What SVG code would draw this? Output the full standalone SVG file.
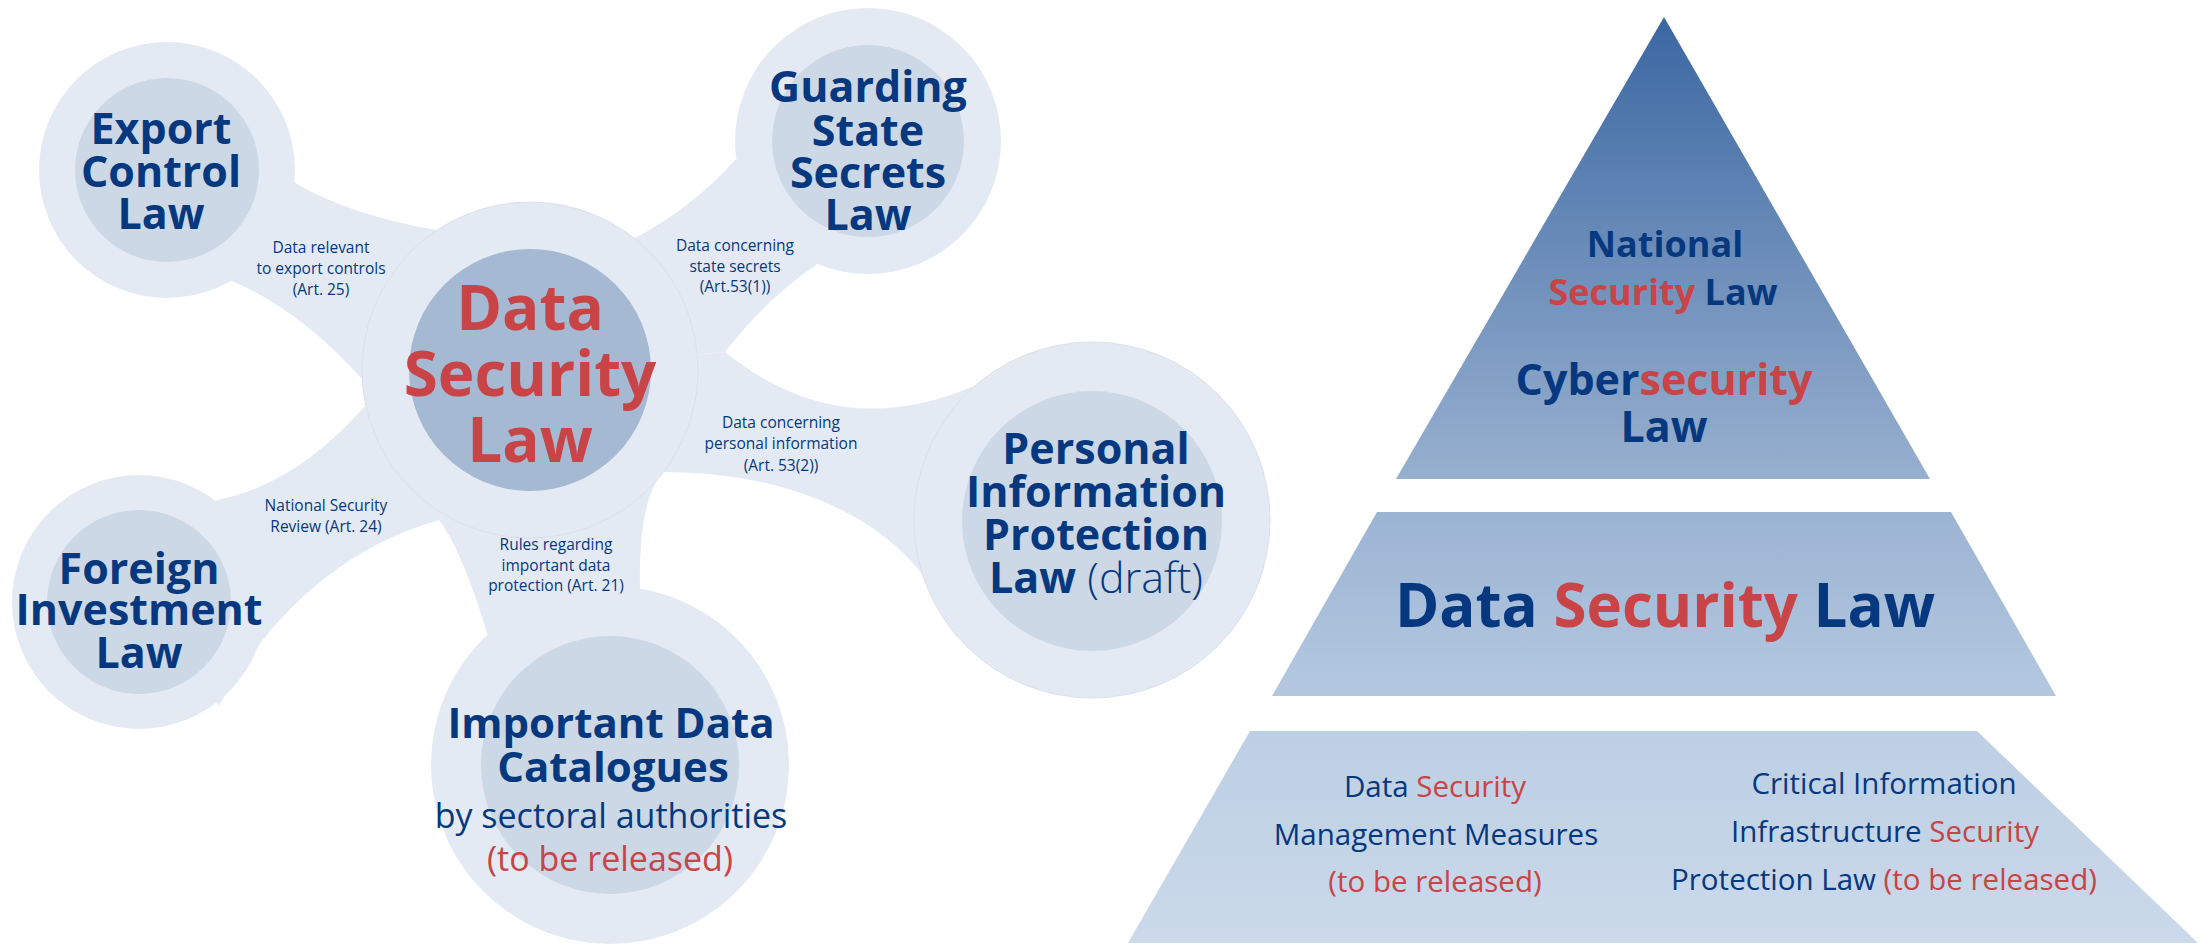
<svg xmlns="http://www.w3.org/2000/svg" width="2212" height="945" viewBox="0 0 2212 945">
<defs>
<linearGradient id="gTop" x1="0" y1="0" x2="0" y2="1"><stop offset="0" stop-color="#3b67a2"/><stop offset="1" stop-color="#98b0cf"/></linearGradient>
<linearGradient id="gMid" x1="0" y1="0" x2="0" y2="1"><stop offset="0" stop-color="#9bb4d3"/><stop offset="1" stop-color="#b4c8e0"/></linearGradient>
<linearGradient id="gBot" x1="0" y1="0" x2="0" y2="1"><stop offset="0" stop-color="#bccfe4"/><stop offset="1" stop-color="#cbd9ea"/></linearGradient>
<style>
text{font-family:"Open Sans","Noto Sans","Liberation Sans",sans-serif;fill:#06387f;text-anchor:middle}
.conn{fill:#e4eaf3}
.outer{fill:#e4eaf3}
.edge{fill:none;stroke:#d9e1ec;stroke-width:1}
.inner{fill:#cdd8e6}
.core{fill:#a6b9d3}
.t{font-weight:700;font-size:43px}
.lbl{font-size:15.5px}
.reg{font-weight:400}
.light{font-weight:300}
.red{fill:#c84446}
</style>
</defs>
<rect width="2212" height="945" fill="#ffffff"/>
<g id="connectors">
<path class="conn" d="M295,183 Q350,215 436,230 L530,370 L361,378 Q300,310 232,281 L167,170 Z"/>
<path class="conn" d="M217,500 Q295,485 364,407 L530,370 L439,520 Q300,560 219,706 L139,602 Z"/>
<path class="conn" d="M439,520 Q462,550 487,633 L610,765 L640,590 Q638,500 663,472 L530,370 Z"/>
<path class="conn" d="M635,238 Q693,207 735,160 L868,141 L816,265 Q765,300 725,352 L530,370 Z"/>
<path class="conn" d="M725,352 Q840,445 976,385 L1092,520 L956,637 C925,540 820,472 662,472 L530,370 Z"/>
</g>
<g id="node-export">
<circle class="outer" cx="167" cy="170" r="128"/>
<circle class="inner" cx="167" cy="170" r="92"/>
<text class="t" x="161" y="144">Export</text>
<text class="t" x="161" y="187">Control</text>
<text class="t" x="161" y="229">Law</text>
</g>
<g id="node-guarding">
<circle class="outer" cx="868" cy="141" r="133"/>
<circle class="inner" cx="868" cy="141" r="96"/>
<text class="t" x="868" y="102">Guarding</text>
<text class="t" x="868" y="146">State</text>
<text class="t" x="868" y="188">Secrets</text>
<text class="t" x="868" y="230">Law</text>
</g>
<g id="node-foreign">
<circle class="outer" cx="139" cy="602" r="127"/>
<circle class="inner" cx="139" cy="602" r="92"/>
<text class="t" x="139" y="584">Foreign</text>
<text class="t" x="139" y="625">Investment</text>
<text class="t" x="139" y="668">Law</text>
</g>
<g id="node-pipl">
<circle class="outer" cx="1092" cy="520" r="178"/>
<circle class="edge" cx="1092" cy="520" r="178"/>
<circle class="inner" cx="1092" cy="521" r="130"/>
<text class="t" x="1096" y="464">Personal</text>
<text class="t" x="1096" y="507">Information</text>
<text class="t" x="1096" y="550">Protection</text>
<text class="t" x="1096" y="593">Law<tspan class="light"> (draft)</tspan></text>
</g>
<g id="node-important">
<circle class="outer" cx="610" cy="765" r="179"/>
<circle class="inner" cx="610" cy="765" r="129"/>
<text class="t" x="611" y="738" style="font-size:42px">Important Data</text>
<text class="t" x="613" y="782" style="font-size:42px">Catalogues</text>
<text class="reg" x="611" y="828" style="font-size:34px">by sectoral authorities</text>
<text class="reg red" x="610" y="871" style="font-size:34px">(to be released)</text>
</g>
<g id="node-dsl">
<circle class="outer" cx="530" cy="370" r="168"/>
<circle class="edge" cx="530" cy="370" r="168"/>
<circle class="core" cx="530" cy="370" r="121"/>
<text class="t red" x="530" y="330" style="font-size:62px">Data</text>
<text class="t red" x="530" y="396" style="font-size:62px">Security</text>
<text class="t red" x="530" y="462" style="font-size:62px">Law</text>
</g>
<g id="connector-labels">
<text class="lbl" x="321" y="253">Data relevant</text>
<text class="lbl" x="321" y="274">to export controls</text>
<text class="lbl" x="321" y="295">(Art. 25)</text>
<text class="lbl" x="735" y="251">Data concerning</text>
<text class="lbl" x="735" y="272">state secrets</text>
<text class="lbl" x="735" y="292">(Art.53(1))</text>
<text class="lbl" x="781" y="428">Data concerning</text>
<text class="lbl" x="781" y="449">personal information</text>
<text class="lbl" x="781" y="471">(Art. 53(2))</text>
<text class="lbl" x="326" y="511">National Security</text>
<text class="lbl" x="326" y="532">Review (Art. 24)</text>
<text class="lbl" x="556" y="550">Rules regarding</text>
<text class="lbl" x="556" y="571">important data</text>
<text class="lbl" x="556" y="591">protection (Art. 21)</text>
</g>
<g id="pyramid-top">
<polygon points="1664,17 1930,479 1396,479" fill="url(#gTop)"/>
<text class="t" x="1665" y="257" style="font-size:36px">National</text>
<text class="t" x="1663" y="305" style="font-size:36px"><tspan class="red">Security</tspan> Law</text>
<text class="t" x="1664" y="395" style="font-size:43px">Cyber<tspan class="red">security</tspan></text>
<text class="t" x="1664" y="442" style="font-size:43px">Law</text>
</g>
<g id="pyramid-middle">
<polygon points="1377,512 1951,512 2056,696 1272,696" fill="url(#gMid)"/>
<text class="t" x="1665" y="627" style="font-size:60px">Data <tspan class="red">Security</tspan> Law</text>
</g>
<g id="pyramid-bottom">
<polygon points="1250,731 1977,731 2198,943 1128,943" fill="url(#gBot)"/>
<text class="reg" x="1435" y="797" style="font-size:29.5px">Data <tspan class="red">Security</tspan></text>
<text class="reg" x="1436" y="845" style="font-size:29.5px">Management Measures</text>
<text class="reg red" x="1435" y="892" style="font-size:29.5px">(to be released)</text>
<text class="reg" x="1884" y="794" style="font-size:29.5px">Critical Information</text>
<text class="reg" x="1885" y="842" style="font-size:29.5px">Infrastructure <tspan class="red">Security</tspan></text>
<text class="reg" x="1884" y="890" style="font-size:29.5px">Protection Law <tspan class="red">(to be released)</tspan></text>
</g>
</svg>
